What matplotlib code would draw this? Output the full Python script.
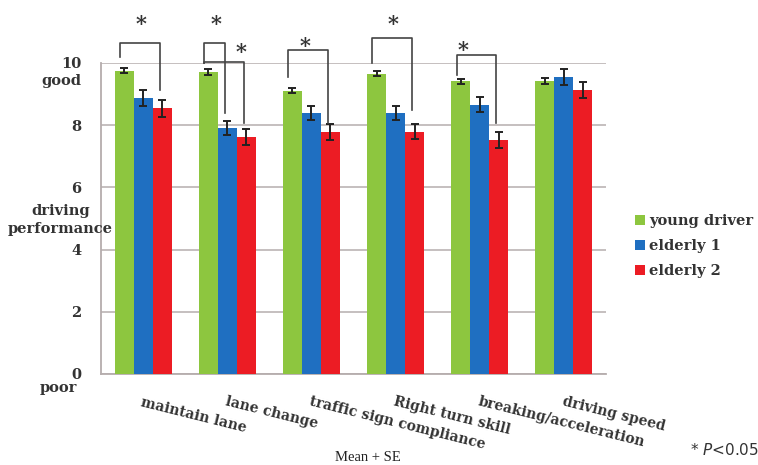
import matplotlib
matplotlib.use("Agg")
import matplotlib.pyplot as plt
import numpy as np

categories = ["maintain lane", "lane change", "traffic sign compliance",
              "Right turn skill", "breaking/acceleration", "driving speed"]
series_names = ["young driver", "elderly 1", "elderly 2"]
young = [9.75, 9.70, 9.11, 9.65, 9.41, 9.41]
elderly1 = [8.88, 7.90, 8.38, 8.38, 8.66, 9.54]
elderly2 = [8.54, 7.61, 7.77, 7.79, 7.52, 9.13]
young_se = [0.09, 0.09, 0.09, 0.08, 0.08, 0.09]
elderly1_se = [0.25, 0.22, 0.22, 0.22, 0.24, 0.25]
elderly2_se = [0.27, 0.25, 0.26, 0.25, 0.25, 0.26]
colors = ["#8dc63f", "#1f6fc1", "#ec1c24"]

# significance brackets: (group, bar_a, bar_b, top, left leg end, right leg end)
brackets = [
    (0, 0, 2, 10.64, 10.19, 9.13),
    (1, 0, 1, 10.64, 10.00, 8.39),
    (1, 0, 2, 10.03, 10.00, 8.07),
    (2, 0, 2, 10.42, 9.55, 8.07),
    (3, 0, 2, 10.80, 10.00, 8.49),
    (4, 0, 2, 10.27, 9.62, 8.07),
]
# stars: (group, offset within group, height)
stars = [(0, -0.02, 11.25), (1, -0.13, 11.25), (1, 0.16, 10.35),
         (2, -0.07, 10.55), (3, -0.03, 11.25), (4, -0.2, 10.42)]

serif = "DejaVu Serif"

fig = plt.figure(figsize=(7.58, 4.65), dpi=100)
ax = fig.add_axes([0.1332, 0.1957, 0.6663, 0.669])

x = np.arange(len(categories))
w = 0.226
values = [young, elderly1, elderly2]
errs = [young_se, elderly1_se, elderly2_se]
for i in range(3):
    ax.bar(x + (i - 1) * w, values[i], w, color=colors[i], label=series_names[i],
           yerr=errs[i], error_kw=dict(ecolor="#222222", elinewidth=1.4, capsize=3, capthick=1.4),
           zorder=3)

ax.set_xlim(-0.5, len(categories) - 0.5)
ax.set_ylim(0, 10)
ax.set_yticks(range(0, 11, 2))
ax.set_yticklabels([str(v) for v in range(0, 11, 2)], fontfamily=serif,
                   fontweight="bold", fontsize=10.5, color="#333333")
ax.tick_params(axis="y", length=0, pad=14)
ax.tick_params(axis="x", length=0)
ax.grid(axis="y", color="#b5adad", linewidth=1.1, zorder=0)
for s in ["top", "right"]:
    ax.spines[s].set_visible(False)
for s in ["left", "bottom"]:
    ax.spines[s].set_color("#b5adad")
    ax.spines[s].set_linewidth(1.3)

ax.set_xticks(x)
ax.set_xticklabels(categories, rotation=-14, rotation_mode="anchor", ha="left",
                   va="top", fontfamily=serif, fontweight="bold", fontsize=10,
                   color="#333333")
ax.tick_params(axis="x", pad=15)

# brackets and stars
for g, a, b, top, ya, yb in brackets:
    xa = g + (a - 1) * w - 0.05
    xb = g + (b - 1) * w - 0.03
    ax.plot([xa, xa, xb, xb], [ya, top, top, yb], color="#444444", lw=1.2,
            clip_on=False, zorder=4)
for g, off, h in stars:
    ax.text(g + off, h, "*", ha="center", va="center", fontsize=15,
            fontfamily=serif, fontweight="bold", color="#333333", clip_on=False)

# y-axis descriptive labels
fig.text(0.108, 0.826, "good", ha="right", va="center", fontfamily=serif,
         fontweight="bold", fontsize=10.5, color="#333333")
fig.text(0.102, 0.165, "poor", ha="right", va="center", fontfamily=serif,
         fontweight="bold", fontsize=10.5, color="#333333")
fig.text(0.08, 0.527, "driving\nperformance", ha="center", va="center",
         fontfamily=serif, fontweight="bold", fontsize=10.5, color="#333333",
         linespacing=1.35)

leg = fig.legend(loc="upper left", bbox_to_anchor=(0.82, 0.568), frameon=False,
                 handlelength=0.7, handleheight=0.7, handletextpad=0.3,
                 labelspacing=0.75, prop=dict(family=serif, weight="bold", size=10.5))
for t in leg.get_texts():
    t.set_color("#333333")

fig.text(0.485, 0.003, "Mean + SE", ha="center", va="bottom", fontfamily="Liberation Serif",
         fontsize=10.5, color="#222222")
fig.text(0.91, 0.015, "* $\\it{P}$<0.05", ha="left", va="bottom", fontsize=11,
         color="#333333")

fig.savefig("out.png", dpi=100)
